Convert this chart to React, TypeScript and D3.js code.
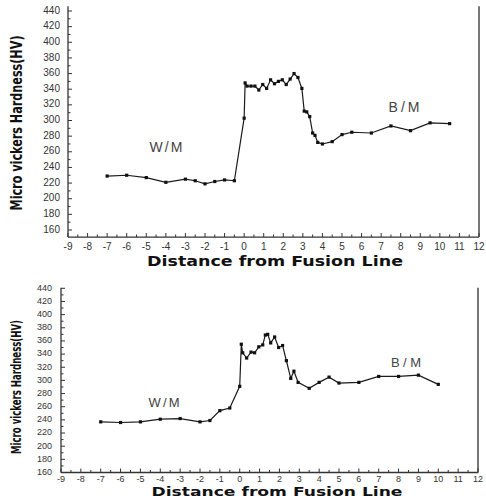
import React, { useEffect, useRef } from 'react';
import * as d3 from 'd3';

// upper panel: hardness profile
const topDistance = [
  -7, -6, -5, -4, -3, -2.5, -2, -1.5, -1, -0.5, 0, 0.05, 0.15, 0.35, 0.55, 0.75, 0.95, 1.15, 1.35, 1.55,
  1.75, 1.95, 2.15, 2.35, 2.55, 2.75, 2.95, 3.07, 3.2, 3.35, 3.5, 3.62, 3.76, 4, 4.5, 5, 5.5, 6.5, 7.5,
  8.5, 9.5, 10.5,
];
const topHardness = [
  229, 230, 227, 221, 225, 223, 219, 222, 224, 223, 303, 348, 344, 344, 344, 339, 346, 341, 352, 347,
  350, 352, 346, 353, 360, 355, 341, 312, 311, 305, 284, 281, 272, 270, 273, 282, 285, 284, 293, 287,
  297, 296,
];

// lower panel
const bottomDistance = [
  -7, -6, -5, -4, -3, -2, -1.5, -1, -0.5, 0, 0.08, 0.15, 0.35, 0.57, 0.75, 0.96, 1.16, 1.29, 1.41, 1.56,
  1.76, 1.96, 2.16, 2.35, 2.57, 2.73, 2.94, 3.5, 4, 4.5, 5, 6, 7, 8, 9, 10,
];
const bottomHardness = [
  237, 236, 237, 241, 242, 237, 239, 254, 258, 291, 355, 342, 334, 343, 342, 351, 354, 369, 370, 357,
  366, 350, 353, 330, 303, 314, 297, 288, 297, 305, 296, 297, 306, 306, 308, 294,
];

const xTickValues = d3.range(-9, 13);
const yTickValues = d3.range(160, 441, 20);
const xTitle = 'Distance from Fusion Line';
const yTitle = 'Micro vickers Hardness(HV)';
const zoneLabels = ['W/M', 'B/M'];

interface Panel {
  xs: number[];
  ys: number[];
  xRange: [number, number];
  yRange: [number, number]; // pixel positions of 160 and 440
  yLow: number;
  yHigh: number;
  tickSize: number;
  xLabelY: number;
  xTitleX: number;
  xTitleY: number;
  xTitleLen: number;
  xTitleSize: number;
  yLabelRight: number;
  yTitleX: number;
  yTitleY: number;
  yTitleLen: number;
  yTitleSize: number;
  wm: [number, number, number];
  bm: [number, number, number];
  labelSize: number;
}

const panels: Panel[] = [
  {
    xs: topDistance,
    ys: topHardness,
    xRange: [68, 479],
    yRange: [230, 11],
    yLow: 151,
    yHigh: 446,
    tickSize: 10,
    xLabelY: 247,
    xTitleX: 275,
    xTitleY: 266,
    xTitleLen: 256,
    xTitleSize: 14,
    yLabelRight: 60,
    yTitleX: 22,
    yTitleY: 123,
    yTitleLen: 175,
    yTitleSize: 15.5,
    wm: [166, 152, 33],
    bm: [404, 112, 31],
    labelSize: 14,
  },
  {
    xs: bottomDistance,
    ys: bottomHardness,
    xRange: [61, 478],
    yRange: [472.5, 288.3],
    yLow: 160,
    yHigh: 441,
    tickSize: 9,
    xLabelY: 480,
    xTitleX: 277,
    xTitleY: 496,
    xTitleLen: 251,
    xTitleSize: 12,
    yLabelRight: 52,
    yTitleX: 21,
    yTitleY: 387,
    yTitleLen: 134,
    yTitleSize: 14,
    wm: [164, 407, 31],
    bm: [406, 367, 30],
    labelSize: 13,
  },
];

const App: React.FC = () => {
  const svgRef = useRef<SVGSVGElement | null>(null);

  useEffect(() => {
    if (!svgRef.current) return;
    const svg = d3.select(svgRef.current);
    svg.selectAll('*').remove();

    panels.forEach((p) => {
      const g = svg.append('g');
      const x = d3.scaleLinear().domain([-9, 12]).range(p.xRange);
      const y = d3.scaleLinear().domain([160, 440]).range(p.yRange);
      const base = y(p.yLow);
      const top = y(p.yHigh);
      const axisColor = '#333';

      // spines: left, bottom, right
      g.append('line')
        .attr('x1', p.xRange[0]).attr('x2', p.xRange[0])
        .attr('y1', top).attr('y2', base)
        .attr('stroke', axisColor).attr('stroke-width', 1.3);
      g.append('line')
        .attr('x1', p.xRange[0]).attr('x2', p.xRange[1])
        .attr('y1', base).attr('y2', base)
        .attr('stroke', axisColor).attr('stroke-width', 1.3);
      g.append('line')
        .attr('x1', p.xRange[1]).attr('x2', p.xRange[1])
        .attr('y1', top).attr('y2', base)
        .attr('stroke', '#555').attr('stroke-width', 1.6);

      // x ticks (inward), minor at halves
      d3.range(-9, 12.01, 0.5).forEach((v) => {
        const major = Number.isInteger(v);
        g.append('line')
          .attr('x1', x(v)).attr('x2', x(v))
          .attr('y1', base).attr('y2', base - (major ? 4 : 2.5))
          .attr('stroke', axisColor).attr('stroke-width', 1);
      });
      g.selectAll(null)
        .data(xTickValues)
        .enter()
        .append('text')
        .attr('x', (d) => x(d))
        .attr('y', p.xLabelY)
        .attr('text-anchor', 'middle')
        .attr('dominant-baseline', 'middle')
        .attr('font-family', 'Liberation Sans, Arial, sans-serif')
        .attr('font-size', p.tickSize)
        .attr('fill', '#333')
        .text((d) => String(d));

      // y ticks (inward), minor at tens
      d3.range(Math.ceil(p.yLow / 10) * 10, p.yHigh, 10).forEach((v) => {
        const major = v % 20 === 0;
        g.append('line')
          .attr('x1', p.xRange[0]).attr('x2', p.xRange[0] + (major ? 4 : 2.5))
          .attr('y1', y(v)).attr('y2', y(v))
          .attr('stroke', axisColor).attr('stroke-width', 1);
      });
      g.selectAll(null)
        .data(yTickValues)
        .enter()
        .append('text')
        .attr('x', p.yLabelRight)
        .attr('y', (d) => y(d))
        .attr('text-anchor', 'end')
        .attr('dominant-baseline', 'middle')
        .attr('font-family', 'Liberation Sans, Arial, sans-serif')
        .attr('font-size', p.tickSize)
        .attr('fill', '#333')
        .text((d) => String(d));

      // titles
      g.append('text')
        .attr('x', p.xTitleX)
        .attr('y', p.xTitleY)
        .attr('text-anchor', 'middle')
        .attr('font-family', 'DejaVu Sans, Verdana, sans-serif')
        .attr('font-weight', 'bold')
        .attr('font-size', p.xTitleSize)
        .attr('textLength', p.xTitleLen)
        .attr('lengthAdjust', 'spacingAndGlyphs')
        .attr('fill', '#111')
        .text(xTitle);
      g.append('text')
        .attr('transform', `translate(${p.yTitleX},${p.yTitleY}) rotate(-90)`)
        .attr('text-anchor', 'middle')
        .attr('font-family', 'Liberation Sans Narrow, DejaVu Sans Condensed, Roboto, sans-serif')
        .attr('font-weight', 'bold')
        .attr('font-size', p.yTitleSize)
        .attr('textLength', p.yTitleLen)
        .attr('lengthAdjust', 'spacingAndGlyphs')
        .attr('fill', '#111')
        .text(yTitle);

      // zone labels
      [p.wm, p.bm].forEach((pos, i) => {
        g.append('text')
          .attr('x', pos[0])
          .attr('y', pos[1])
          .attr('text-anchor', 'middle')
          .attr('font-family', 'Liberation Sans, Arial, sans-serif')
          .attr('font-size', p.labelSize)
          .attr('textLength', pos[2])
          .attr('fill', '#444')
          .text(zoneLabels[i]);
      });

      // data line + square markers
      const pts = p.xs.map((d, i) => [d, p.ys[i]] as [number, number]);
      const line = d3
        .line<[number, number]>()
        .x((d) => x(d[0]))
        .y((d) => y(d[1]));
      g.append('path')
        .datum(pts)
        .attr('d', line)
        .attr('fill', 'none')
        .attr('stroke', '#1a1a1a')
        .attr('stroke-width', 1.2);
      g.selectAll(null)
        .data(pts)
        .enter()
        .append('rect')
        .attr('x', (d) => x(d[0]) - 1.6)
        .attr('y', (d) => y(d[1]) - 1.6)
        .attr('width', 3.2)
        .attr('height', 3.2)
        .attr('fill', '#111');
    });
  }, []);

  return (
    <svg
      ref={svgRef}
      width={486}
      height={498}
      style={{ position: 'absolute', left: 0, top: 0, background: '#fff' }}
    />
  );
};

export default App;
